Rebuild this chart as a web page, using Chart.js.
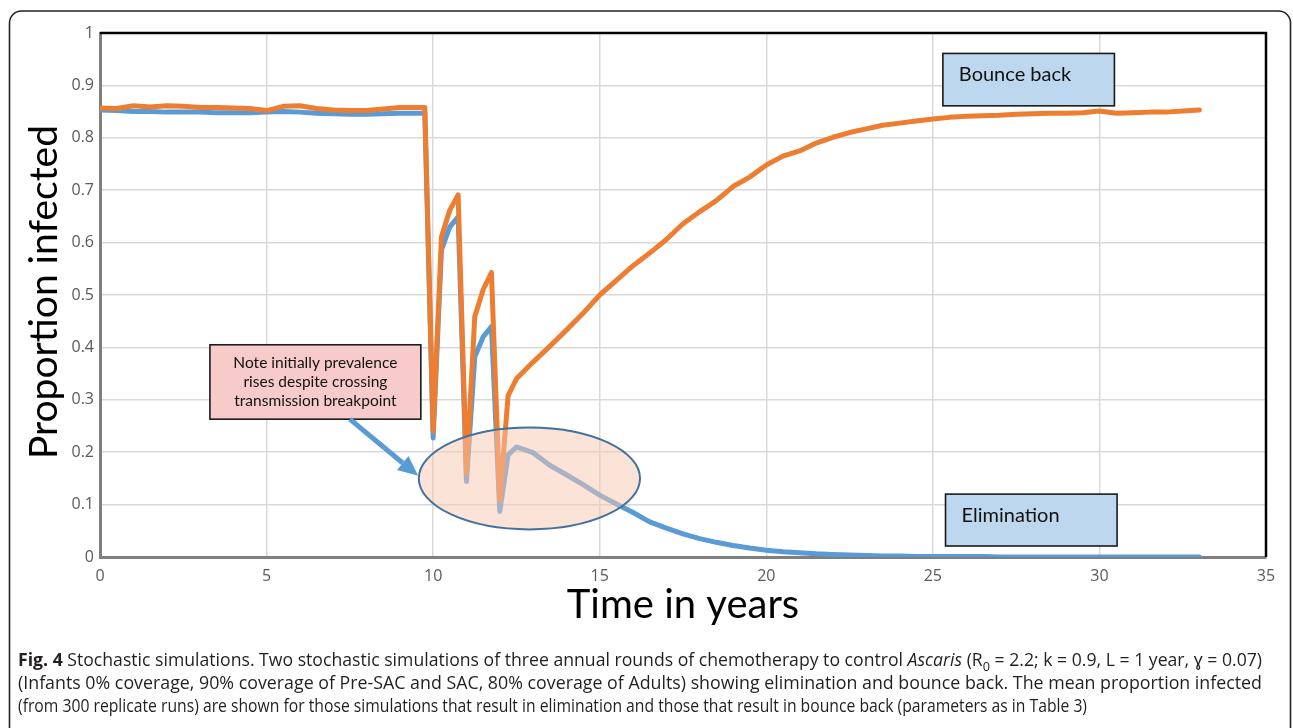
<!DOCTYPE html>
<html>
<head>
<meta charset="utf-8">
<title>Stochastic simulations – Ascaris</title>
<script src="https://cdn.jsdelivr.net/npm/chart.js@4.4.1/dist/chart.umd.min.js"></script>
<style>
  html, body { margin: 0; padding: 0; background: #ffffff; }
  #wrap { position: relative; width: 1293px; height: 728px; }
</style>
</head>
<body>
<div id="wrap"><canvas id="chart"></canvas></div>
<script>
// Time axis (years) of the mean trajectories
const years = [
  0, 0.5, 1, 1.5, 2, 2.5, 3, 3.5, 4, 4.5, 5, 5.5, 6, 6.5, 7, 7.5, 8, 8.5, 9, 9.5,
  9.75, 10, 10.25, 10.5, 10.75, 11, 11.25, 11.5, 11.75, 12, 12.25, 12.5,
  13, 13.5, 14, 14.5, 15, 15.5, 16, 16.5, 17, 17.5, 18, 18.5, 19, 19.5, 20, 20.5,
  21, 21.5, 22, 22.5, 23, 23.5, 24, 24.5, 25, 25.5, 26, 26.5, 27, 27.5, 28, 28.5,
  29, 29.5, 30, 30.5, 31, 31.5, 32, 32.5, 33
];

// Mean proportion infected, runs that bounce back
const bounceBack = [
  0.857, 0.856, 0.861, 0.859, 0.861, 0.860, 0.858, 0.858, 0.857, 0.856, 0.852, 0.860, 0.861, 0.856, 0.853, 0.852, 0.852, 0.855, 0.858, 0.858,
  0.858, 0.240, 0.611, 0.662, 0.691, 0.160, 0.459, 0.510, 0.543, 0.109, 0.308, 0.340,
  0.372, 0.402, 0.433, 0.465, 0.500, 0.528, 0.556, 0.580, 0.606, 0.636, 0.659, 0.680, 0.707, 0.725, 0.748, 0.765,
  0.775, 0.790, 0.801, 0.810, 0.817, 0.824, 0.828, 0.832, 0.836, 0.839, 0.841, 0.842, 0.843, 0.845, 0.846, 0.847,
  0.847, 0.848, 0.851, 0.847, 0.848, 0.849, 0.849, 0.851, 0.853
];

// Mean proportion infected, runs that reach elimination
const elimination = [
  0.853, 0.852, 0.850, 0.850, 0.849, 0.849, 0.849, 0.848, 0.848, 0.848, 0.849, 0.850, 0.849, 0.847, 0.846, 0.845, 0.845, 0.846, 0.847, 0.847,
  0.847, 0.227, 0.586, 0.630, 0.649, 0.144, 0.382, 0.420, 0.440, 0.087, 0.195, 0.210,
  0.199, 0.175, 0.157, 0.138, 0.118, 0.101, 0.085, 0.067, 0.055, 0.044, 0.035, 0.028, 0.022, 0.017, 0.013, 0.010,
  0.008, 0.006, 0.005, 0.004, 0.003, 0.002, 0.002, 0.001, 0.001, 0.001, 0.001, 0.001, 0.000, 0.000, 0.000, 0.000,
  0.000, 0.000, 0.000, 0.000, 0.000, 0.000, 0.000, 0.000, 0.000
];

// Axis tick values
const xTickValues = [0, 5, 10, 15, 20, 25, 30, 35];
const yTickValues = [0, 0.1, 0.2, 0.3, 0.4, 0.5, 0.6, 0.7, 0.8, 0.9, 1];

const BLUE = '#5B9BD5';
const ORANGE = '#ED7D31';
const LABEL_FONT = 'Lato, "Open Sans", "Noto Sans", sans-serif';
const TICK_FONT = '"Open Sans", "Noto Sans", sans-serif';

function toPoints(values) {
  return years.map((t, i) => ({ x: t, y: values[i] }));
}

// Rich-text caption line: segments are drawn one after another and the
// whole line is squeezed horizontally to the requested width.
function drawRichLine(ctx, segments, x, baseline, width, size) {
  const fontFor = (s) => {
    const st = s.italic ? 'italic ' : '';
    const wt = s.bold ? 'bold ' : '';
    const sz = s.sub ? Math.round(size * 0.7) : size;
    return st + wt + sz + 'px "Open Sans", "Noto Sans", "DejaVu Sans", sans-serif';
  };
  let natural = 0;
  segments.forEach(s => { ctx.font = fontFor(s); natural += ctx.measureText(s.text).width; });
  const k = width / natural;
  ctx.save();
  ctx.translate(x, baseline);
  ctx.scale(k, 1);
  ctx.fillStyle = '#231f20';
  ctx.textBaseline = 'alphabetic';
  ctx.textAlign = 'left';
  let cx = 0;
  segments.forEach(s => {
    ctx.font = fontFor(s);
    ctx.fillText(s.text, cx, s.sub ? size * 0.28 : 0);
    cx += ctx.measureText(s.text).width;
  });
  ctx.restore();
}

function textBox(ctx, x0, y0, x1, y1, fill) {
  ctx.save();
  ctx.fillStyle = fill;
  ctx.fillRect(x0, y0, x1 - x0, y1 - y0);
  ctx.lineWidth = 1.6;
  ctx.strokeStyle = '#1a1a1a';
  ctx.strokeRect(x0, y0, x1 - x0, y1 - y0);
  ctx.restore();
}

const annotations = {
  id: 'annotations',
  afterDatasetsDraw(chart) {
    const ctx = chart.ctx;
    const xs = chart.scales.x, ys = chart.scales.y;
    const px = v => xs.getPixelForValue(v);
    const py = v => ys.getPixelForValue(v);

    // Highlight ellipse round the post-treatment rise
    ctx.save();
    const cx = px(12.89), cy = py(0.150);
    const rx = px(12.89 + 3.32) - cx, ry = cy - py(0.150 + 0.0973);
    ctx.beginPath();
    ctx.ellipse(cx, cy, rx, ry, 0, 0, Math.PI * 2);
    ctx.fillStyle = 'rgba(247, 200, 178, 0.5)';
    ctx.fill();
    ctx.lineWidth = 2;
    ctx.strokeStyle = '#41719C';
    ctx.stroke();
    ctx.restore();

    // Note box
    const nx0 = px(3.30), nx1 = px(9.63), ny0 = py(0.405), ny1 = py(0.263);
    textBox(ctx, nx0, ny0, nx1, ny1, '#F8CBCB');
    ctx.save();
    ctx.fillStyle = '#111';
    ctx.font = '15.5px ' + LABEL_FONT;
    ctx.textAlign = 'center';
    ctx.textBaseline = 'middle';
    const ncx = (nx0 + nx1) / 2;
    ctx.fillText('Note initially prevalence', ncx, ny0 + 18);
    ctx.fillText('rises despite crossing', ncx, ny0 + 37.5);
    ctx.fillText('transmission breakpoint', ncx, ny0 + 56.5);
    ctx.restore();

    // Arrow from the note to the ellipse
    ctx.save();
    const ax0 = px(7.5), ay0 = py(0.263), ax1 = px(9.55), ay1 = py(0.155);
    const ang = Math.atan2(ay1 - ay0, ax1 - ax0);
    const head = 20, half = 9;
    const bx = ax1 - head * Math.cos(ang), by = ay1 - head * Math.sin(ang);
    ctx.strokeStyle = BLUE;
    ctx.fillStyle = BLUE;
    ctx.lineWidth = 5;
    ctx.lineCap = 'butt';
    ctx.beginPath();
    ctx.moveTo(ax0, ay0);
    ctx.lineTo(bx, by);
    ctx.stroke();
    ctx.beginPath();
    ctx.moveTo(ax1, ay1);
    ctx.lineTo(bx + half * Math.sin(ang), by - half * Math.cos(ang));
    ctx.lineTo(bx - half * Math.sin(ang), by + half * Math.cos(ang));
    ctx.closePath();
    ctx.fill();
    ctx.restore();

    // Outcome labels
    ctx.save();
    ctx.font = '20px ' + LABEL_FONT;
    ctx.fillStyle = '#111';
    ctx.textBaseline = 'middle';
    ctx.textAlign = 'left';
    const b0 = px(25.3), b1 = px(30.45), bt = py(0.961), bb = py(0.861);
    textBox(ctx, b0, bt, b1, bb, '#BDD7EE');
    ctx.fillText('Bounce back', b0 + 16, (bt + bb) / 2 - 5);
    const e0 = px(25.38), e1 = px(30.53), et = py(0.120), eb = py(0.021);
    textBox(ctx, e0, et, e1, eb, '#BDD7EE');
    ctx.fillText('Elimination', e0 + 16, (et + eb) / 2 - 5);
    ctx.restore();
  },
  afterDraw(chart) {
    const ctx = chart.ctx;
    const a = chart.chartArea;

    // Plot frame: black top and right edges
    ctx.save();
    ctx.strokeStyle = '#000';
    ctx.lineWidth = 2.5;
    ctx.beginPath();
    ctx.moveTo(a.left, a.top);
    ctx.lineTo(a.right, a.top);
    ctx.lineTo(a.right, a.bottom);
    ctx.stroke();
    ctx.restore();

    // Axis titles
    ctx.save();
    ctx.fillStyle = '#000';
    ctx.font = '40px ' + LABEL_FONT;
    ctx.textAlign = 'center';
    ctx.textBaseline = 'middle';
    ctx.fillText('Time in years', (a.left + a.right) / 2, 605);
    ctx.font = '39px ' + LABEL_FONT;
    ctx.translate(44, 292);
    ctx.rotate(-Math.PI / 2);
    ctx.fillText('Proportion infected', 0, 0);
    ctx.restore();

    // Figure frame
    ctx.save();
    ctx.strokeStyle = '#222';
    ctx.lineWidth = 1.6;
    ctx.beginPath();
    ctx.roundRect(9.5, 11, 1281, 740, 12);
    ctx.stroke();
    ctx.restore();

    // Caption
    const size = 18;
    drawRichLine(ctx, [
      { text: 'Fig. 4', bold: true },
      { text: ' Stochastic simulations. Two stochastic simulations of three annual rounds of chemotherapy to control ' },
      { text: 'Ascaris', italic: true },
      { text: ' (R' },
      { text: '0', sub: true },
      { text: ' = 2.2; k = 0.9, L = 1 year, \u0263 = 0.07)' }
    ], 18, 666, 1244, size);
    drawRichLine(ctx, [
      { text: '(Infants 0% coverage, 90% coverage of Pre-SAC and SAC, 80% coverage of Adults) showing elimination and bounce back. The mean proportion infected' }
    ], 18, 689, 1244, size);
    drawRichLine(ctx, [
      { text: '(from 300 replicate runs) are shown for those simulations that result in elimination and those that result in bounce back (parameters as in Table 3)' }
    ], 18, 712, 1069, size);
  }
};

new Chart(document.getElementById('chart'), {
  type: 'line',
  data: {
    datasets: [
      {
        label: 'Elimination',
        data: toPoints(elimination),
        borderColor: BLUE,
        borderWidth: 5,
        pointRadius: 0,
        tension: 0,
        borderJoinStyle: 'round',
        borderCapStyle: 'round',
        order: 1
      },
      {
        label: 'Bounce back',
        data: toPoints(bounceBack),
        borderColor: ORANGE,
        borderWidth: 5,
        pointRadius: 0,
        tension: 0,
        borderJoinStyle: 'round',
        borderCapStyle: 'round',
        order: 0
      }
    ]
  },
  options: {
    responsive: true,
    maintainAspectRatio: false,
    animation: false,
    events: [],
    layout: { padding: { left: 0, top: 33, right: 27, bottom: 0 } },
    plugins: { legend: { display: false }, tooltip: { enabled: false } },
    scales: {
      x: {
        type: 'linear',
        min: 0, max: 35,
        afterFit(scale) { scale.height = 171; },
        afterBuildTicks(scale) { scale.ticks = xTickValues.map(v => ({ value: v })); },
        grid: { color: '#D9D9D9', lineWidth: 1.5, drawTicks: false },
        border: { color: '#7F7F7F', width: 3 },
        ticks: {
          padding: 10,
          color: '#595959',
          font: { family: TICK_FONT, size: 16 },
          maxRotation: 0
        }
      },
      y: {
        min: 0, max: 1,
        afterFit(scale) { scale.width = 100; },
        afterBuildTicks(scale) { scale.ticks = yTickValues.map(v => ({ value: v })); },
        grid: { color: '#D9D9D9', lineWidth: 1.5, drawTicks: false },
        border: { color: '#7F7F7F', width: 3 },
        ticks: {
          padding: 6,
          color: '#595959',
          font: { family: TICK_FONT, size: 16 },
          callback: v => String(Math.round(v * 10) / 10)
        }
      }
    }
  },
  plugins: [annotations]
});
</script>
</body>
</html>
